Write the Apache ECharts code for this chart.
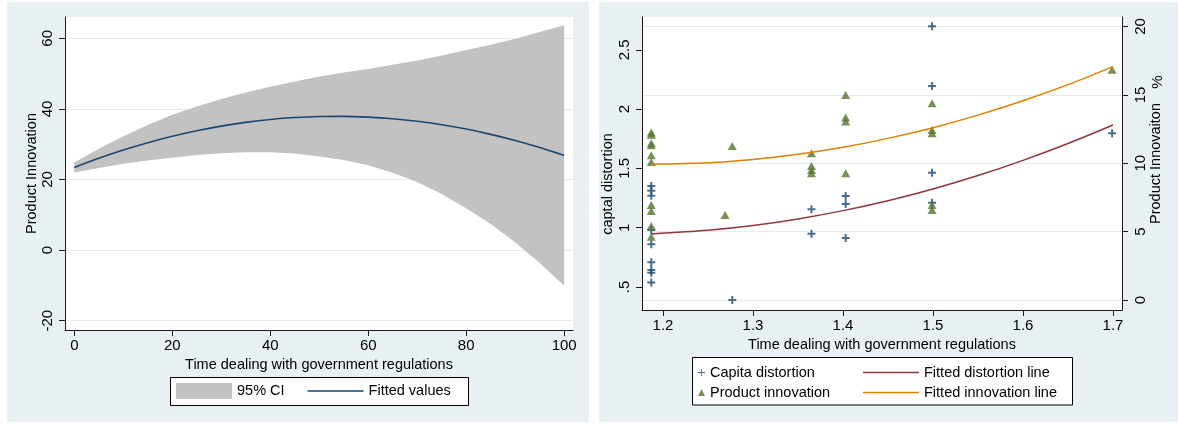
<!DOCTYPE html>
<html><head><meta charset="utf-8">
<script src="https://cdn.jsdelivr.net/npm/echarts@6/dist/echarts.min.js"></script>
<style>html,body{margin:0;padding:0;background:#fff}#c{width:1180px;height:424px}</style>
</head><body><div id="c"></div>
<script>
// ---------- Left panel: fitted values with 95% CI ----------
const ciX = [0,5,10,15,20,25,30,35,40,45,50,55,60,65,70,75,80,85,90,95,100];
const fittedValues = [23.4,25.99,28.33,30.41,32.24,33.81,35.13,36.19,37.0,37.55,37.85,37.89,37.68,37.21,36.49,35.51,34.28,32.79,31.05,29.05,26.8];
const ciUpper = [24.85,28.69,32.23,35.41,38.34,40.71,42.83,44.64,46.25,47.75,49.15,50.29,51.33,52.51,53.69,55.11,56.68,58.19,59.9,61.75,63.7];
const ciLower = [21.95,23.29,24.43,25.41,26.14,26.91,27.43,27.74,27.75,27.35,26.55,25.49,24.03,21.91,19.29,15.91,11.88,7.39,2.2,-3.65,-10.1];
const leftXTicks = [0,20,40,60,80,100];
const leftYTicks = [-20,0,20,40,60];

// ---------- Right panel: scatter + fitted lines ----------
const capX = [1.187,1.187,1.187,1.187,1.187,1.187,1.187,1.187,1.187,1.277,1.365,1.365,1.403,1.403,1.403,1.499,1.499,1.499,1.499,1.699];
const capY = [1.352,1.312,1.270,0.981,0.860,0.708,0.643,0.621,0.537,0.390,1.155,0.949,1.267,1.200,0.913,2.700,2.195,1.464,1.211,1.796];
const innoX = [1.187,1.187,1.187,1.187,1.187,1.187,1.187,1.187,1.187,1.187,1.269,1.277,1.365,1.365,1.365,1.365,1.403,1.403,1.403,1.403,1.499,1.499,1.499,1.499,1.499,1.699];
const innoY = [12.24,12.09,11.46,11.32,10.59,10.10,6.95,6.51,5.41,4.63,6.22,11.27,10.73,9.80,9.50,9.27,15.0,13.34,13.05,9.27,14.39,12.44,12.19,6.95,6.58,16.83];
const fitX = [1.187,1.25,1.3,1.35,1.4,1.45,1.5,1.55,1.6,1.65,1.7];
const distFit = [0.947,0.978,1.018,1.074,1.144,1.228,1.327,1.440,1.568,1.710,1.866];
const innoFit = [9.93,10.04,10.28,10.66,11.17,11.82,12.60,13.52,14.57,15.75,17.07];
const rightXTicks = [1.2,1.3,1.4,1.5,1.6,1.7];
const rightXLabels = ['1.2','1.3','1.4','1.5','1.6','1.7'];
const distTicks = [0.5,1,1.5,2,2.5];
const distLabels = ['.5','1','1.5','2','2.5'];
const innoTicks = [0,5,10,15,20];
const innoLabels = ['0','5','10','15','20'];

const FONT = 'Liberation Sans';
const AX = '#1a1a1a';
const GRIDC = '#e4ecef';
const PANEL = '#e9f0f3';
const plusPath = 'path://M3,0H5V3H8V5H5V8H3V5H0V3H3Z';
const plusThin = 'path://M4.4,0H5.6V4.4H10V5.6H5.6V10H4.4V5.6H0V4.4H4.4Z';
const lineIcon = 'path://M0,0H40V1H0Z';

function fmt(ticks, labels) {
  return v => { const i = ticks.findIndex(t => Math.abs(t - v) < 1e-9); return i >= 0 ? labels[i] : ''; };
}
function axisCommon(ticks, labels, margin, rotate) {
  return {
    axisLine: {show: true, onZero: false, lineStyle: {color: AX, width: 1}},
    axisTick: {show: true, length: 6, customValues: ticks, lineStyle: {color: AX, width: 1}},
    axisLabel: {customValues: ticks, formatter: fmt(ticks, labels), color: '#000', fontSize: 15, fontFamily: FONT, margin: margin, rotate: rotate || 0},
    nameTextStyle: {color: '#000', fontSize: 14.5, fontFamily: FONT}
  };
}
const pairs = (xs, ys) => xs.map((x, i) => [x, ys[i]]);

function renderBand(params, api) {
  if (params.dataIndex !== 0) return null;
  const pts = [];
  for (let i = 0; i < ciX.length; i++) pts.push(api.coord([ciX[i], ciUpper[i]]));
  for (let i = ciX.length - 1; i >= 0; i--) pts.push(api.coord([ciX[i], ciLower[i]]));
  return {type: 'polygon', shape: {points: pts}, style: {fill: '#c2c2c2', stroke: null}};
}

const chart = echarts.init(document.getElementById('c'), null, {renderer: 'canvas'});
chart.setOption({
  animation: false,
  backgroundColor: '#ffffff',
  textStyle: {fontFamily: FONT},
  graphic: [
    {type: 'rect', z: -10, silent: true, shape: {x: 7, y: 2, width: 582, height: 420}, style: {fill: PANEL}},
    {type: 'rect', z: -10, silent: true, shape: {x: 599, y: 2, width: 579, height: 420}, style: {fill: PANEL}},
    {type: 'rect', z: -5, silent: true, shape: {x: 170.5, y: 377.5, width: 298, height: 28}, style: {fill: '#fff', stroke: '#000', lineWidth: 1}},
    {type: 'rect', z: -5, silent: true, shape: {x: 692.5, y: 357.5, width: 380, height: 47.5}, style: {fill: '#fff', stroke: '#000', lineWidth: 1}},
    {type: 'text', silent: true, x: 608, y: 184, rotation: Math.PI / 2, style: {text: 'captal distortion', fontSize: 14.5, fontFamily: FONT, fill: '#000', align: 'center', verticalAlign: 'middle'}},
    {type: 'text', silent: true, x: 1158, y: 82, rotation: Math.PI / 2, style: {text: '%', fontSize: 15, fontFamily: FONT, fill: '#000', align: 'center', verticalAlign: 'middle'}}
  ],
  grid: [
    {left: 65, top: 17, width: 508, height: 313, show: true, backgroundColor: '#fff', borderWidth: 0, outerBoundsMode: 'none'},
    {left: 642, top: 17, width: 480, height: 293, show: true, backgroundColor: '#fff', borderWidth: 0, outerBoundsMode: 'none'}
  ],
  legend: [
    {left: 176, top: 383, padding: 0, itemWidth: 56, itemHeight: 16, itemGap: 23, selectedMode: false, symbolKeepAspect: true,
     textStyle: {fontSize: 14.5, color: '#000', fontFamily: FONT},
     data: [{name: '95% CI', icon: 'rect'}, {name: 'Fitted values', icon: lineIcon}]},
    {left: 698, top: 365, orient: 'vertical', padding: 0, itemWidth: 7, itemHeight: 7, itemGap: 5, selectedMode: false,
     textStyle: {fontSize: 14.5, color: '#000', fontFamily: FONT},
     data: [{name: 'Capita distortion', icon: plusThin}, {name: 'Product innovation', icon: 'triangle'}]},
    {left: 863, top: 365, orient: 'vertical', padding: 0, itemWidth: 56, itemHeight: 14, itemGap: 5, selectedMode: false, symbolKeepAspect: true,
     textStyle: {fontSize: 14.5, color: '#000', fontFamily: FONT},
     data: [{name: 'Fitted distortion line', icon: lineIcon}, {name: 'Fitted innovation line', icon: lineIcon}]}
  ],
  xAxis: [
    Object.assign({type: 'value', gridIndex: 0, min: -1.9, max: 101.8, splitLine: {show: false},
      name: 'Time dealing with government regulations', nameLocation: 'middle', nameGap: 25},
      axisCommon(leftXTicks, leftXTicks.map(String), 8)),
    Object.assign({type: 'value', gridIndex: 1, min: 1.1767, max: 1.71, splitLine: {show: false},
      name: 'Time dealing with government regulations', nameLocation: 'middle', nameGap: 23},
      axisCommon(rightXTicks, rightXLabels, 8))
  ],
  yAxis: [
    Object.assign({type: 'value', gridIndex: 0, min: -22.63, max: 66.03,
      splitLine: {show: true, lineStyle: {color: GRIDC, width: 1}},
      name: 'Product Innovation', nameLocation: 'middle', nameGap: 26, nameRotate: 90},
      axisCommon(leftYTicks, leftYTicks.map(String), 10, 90)),
    Object.assign({type: 'value', gridIndex: 1, position: 'left', min: 0.306, max: 2.777,
      splitLine: {show: false}},
      axisCommon(distTicks, distLabels, 10, 90)),
    Object.assign({type: 'value', gridIndex: 1, position: 'right', min: -0.731, max: 20.695,
      splitLine: {show: true, lineStyle: {color: GRIDC, width: 1}},
      name: 'Product Innovaiton', nameLocation: 'middle', nameGap: 26, nameRotate: 90},
      axisCommon(innoTicks, innoLabels, 11, 90))
  ],
  series: [
    {type: 'custom', name: '95% CI', xAxisIndex: 0, yAxisIndex: 0, coordinateSystem: 'cartesian2d',
     data: pairs(ciX, ciUpper), renderItem: renderBand, clip: true, silent: true,
     color: '#c2c2c2', itemStyle: {color: '#c2c2c2'}},
    {type: 'line', name: 'Fitted values', xAxisIndex: 0, yAxisIndex: 0, data: pairs(ciX, fittedValues),
     symbol: 'none', smooth: 0.3, color: '#1a476f', lineStyle: {color: '#1a476f', width: 1.6}},

    {type: 'scatter', name: 'Capita distortion', xAxisIndex: 1, yAxisIndex: 1, data: pairs(capX, capY),
     symbol: plusPath, symbolSize: 8, color: '#1a476f', itemStyle: {color: '#1a476f'}},
    {type: 'scatter', name: 'Product innovation', xAxisIndex: 1, yAxisIndex: 2, data: pairs(innoX, innoY),
     symbol: 'triangle', symbolSize: [9, 8], color: '#55752f', itemStyle: {color: '#55752f'}},
    {type: 'line', name: 'Fitted distortion line', xAxisIndex: 1, yAxisIndex: 1, data: pairs(fitX, distFit),
     symbol: 'none', smooth: 0.3, color: '#90353b', lineStyle: {color: '#90353b', width: 1.5}},
    {type: 'line', name: 'Fitted innovation line', xAxisIndex: 1, yAxisIndex: 2, data: pairs(fitX, innoFit),
     symbol: 'none', smooth: 0.3, color: '#e37e00', lineStyle: {color: '#e37e00', width: 1.5}}
  ]
});
</script></body></html>
